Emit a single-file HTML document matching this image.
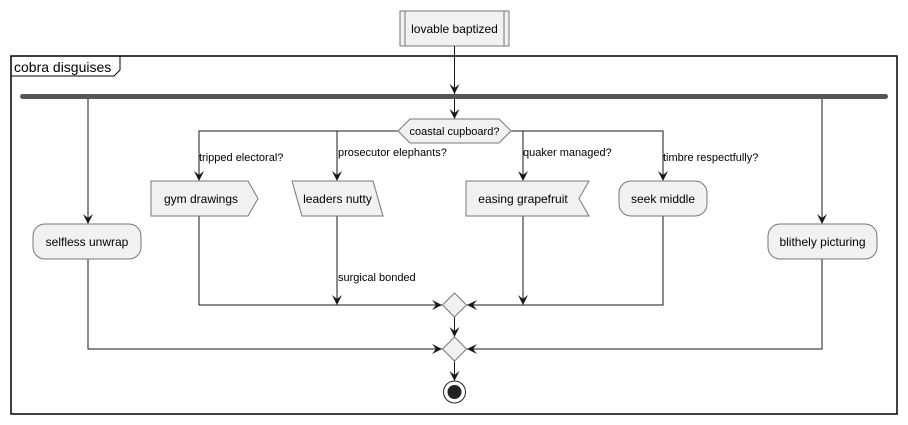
<!DOCTYPE html>
<html><head><style>body{margin:0;background:#fff}svg{display:block}text{font-family:"Liberation Sans",sans-serif;fill:#000}</style></head>
<body>
<svg width="908" height="425" viewBox="0 0 908 425" xmlns="http://www.w3.org/2000/svg">
<defs>
<path id="ad" d="M0,0 L-5,-10 L0,-6 L5,-10 Z" fill="#181818"/>
</defs>
<!-- frame -->
<rect x="11" y="56" width="886" height="358" fill="none" stroke="#000" stroke-width="1.5"/>
<path d="M11,76 L114,76 L120,70 L120,56" fill="none" stroke="#000" stroke-width="1"/>
<text x="14" y="72" font-size="14">cobra disguises</text>
<!-- start box -->
<rect x="400" y="11" width="109" height="35" fill="#f1f1f1" stroke="#777"/>
<line x1="405" y1="11" x2="405" y2="46" stroke="#777"/>
<line x1="504" y1="11" x2="504" y2="46" stroke="#777"/>
<text x="454.5" y="33" font-size="12" text-anchor="middle">lovable baptized</text>
<g stroke="#181818" fill="none" stroke-width="1">
<line x1="454.5" y1="46" x2="454.5" y2="94"/>
<line x1="454.5" y1="99" x2="454.5" y2="119"/>
<polyline points="398,131 199,131 199,180"/>
<line x1="337" y1="131" x2="337" y2="180"/>
<polyline points="511,131 663,131 663,180"/>
<line x1="523" y1="131" x2="523" y2="180"/>
<line x1="88" y1="99" x2="88" y2="224"/>
<line x1="822" y1="99" x2="822" y2="224"/>
<polyline points="199,216 199,305 442,305"/>
<line x1="337" y1="216" x2="337" y2="305"/>
<line x1="523" y1="216" x2="523" y2="305"/>
<polyline points="663,216 663,305 466,305"/>
<line x1="454.5" y1="317" x2="454.5" y2="337"/>
<polyline points="88,259 88,349 442,349"/>
<polyline points="822,259 822,349 467,349"/>
<line x1="454.5" y1="361" x2="454.5" y2="381"/>
</g>
<!-- bar -->
<rect x="20" y="94" width="868" height="5" rx="2.5" fill="#555"/>
<!-- arrows -->
<use href="#ad" x="454.5" y="94"/>
<use href="#ad" x="454.5" y="119"/>
<use href="#ad" x="199" y="181"/>
<use href="#ad" x="337" y="181"/>
<use href="#ad" x="523" y="181"/>
<use href="#ad" x="663" y="181"/>
<use href="#ad" x="88" y="224"/>
<use href="#ad" x="822" y="224"/>
<use href="#ad" x="337" y="305"/>
<use href="#ad" x="523" y="305"/>
<use href="#ad" x="454.5" y="337"/>
<use href="#ad" x="454.5" y="381"/>
<path d="M442,305 L432,300 L436,305 L432,310 Z" fill="#181818"/>
<path d="M467,305 L477,300 L473,305 L477,310 Z" fill="#181818"/>
<path d="M442,349 L432,344 L436,349 L432,354 Z" fill="#181818"/>
<path d="M467,349 L477,344 L473,349 L477,354 Z" fill="#181818"/>
<!-- decision -->
<polygon points="398,131 410,119 499,119 511,131 499,143 410,143" fill="#f1f1f1" stroke="#777"/>
<text x="454.5" y="135" font-size="11" text-anchor="middle">coastal cupboard?</text>
<g font-size="11">
<text x="199" y="161">tripped electoral?</text>
<text x="338" y="156">prosecutor elephants?</text>
<text x="523" y="156">quaker managed?</text>
<text x="663" y="161">timbre respectfully?</text>
<text x="338" y="281">surgical bonded</text>
</g>
<!-- nodes -->
<g fill="#f1f1f1" stroke="#777">
<polygon points="151,181 248,181 258,198.5 248,216 151,216"/>
<polygon points="292,181 373,181 383,216 302,216"/>
<polygon points="466,181 589,181 579,198.5 589,216 466,216"/>
<rect x="619" y="181" width="88" height="35" rx="12"/>
<rect x="33" y="224" width="108" height="35" rx="12"/>
<rect x="768" y="224" width="109" height="35" rx="12"/>
<polygon points="454.5,293 466.5,305 454.5,317 442.5,305"/>
<polygon points="454.5,337 466.5,349 454.5,361 442.5,349"/>
</g>
<g font-size="12" text-anchor="middle">
<text x="201" y="203">gym drawings</text>
<text x="337.5" y="203">leaders nutty</text>
<text x="523" y="203">easing grapefruit</text>
<text x="663" y="203">seek middle</text>
<text x="87" y="246">selfless unwrap</text>
<text x="822.5" y="246">blithely picturing</text>
</g>
<circle cx="454.5" cy="392" r="11" fill="none" stroke="#222" stroke-width="1"/>
<circle cx="454.5" cy="392" r="7" fill="#222"/>
</svg>
</body></html>
